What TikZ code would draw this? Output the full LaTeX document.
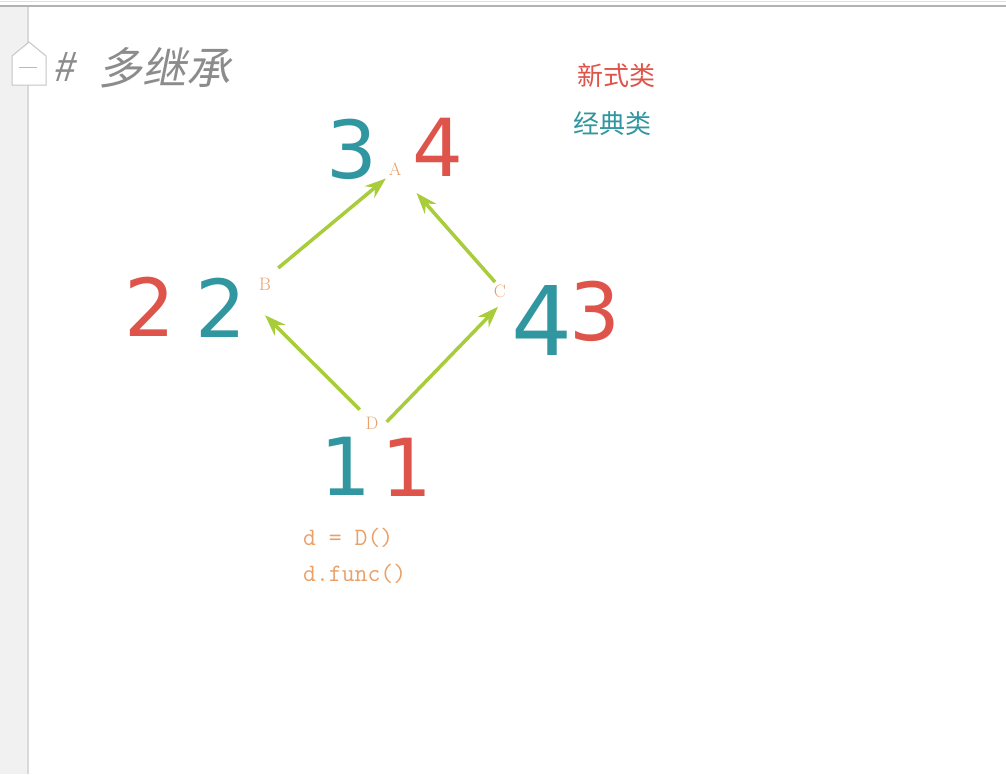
\documentclass[tikz,border=0pt]{standalone}
\usepackage{fontspec}
\usetikzlibrary{arrows.meta}

\newfontfamily\cjk{Noto Sans CJK SC}
\newfontfamily\cjkslant[FakeSlant=0.2]{Noto Sans CJK SC}
\newfontfamily\digitfont{DejaVu Sans}

\definecolor{newred}{RGB}{222,84,74}
\definecolor{oldteal}{RGB}{48,150,160}
\definecolor{lettercol}{RGB}{234,160,105}
\definecolor{arrowgreen}{RGB}{168,204,58}
\definecolor{titlegray}{RGB}{140,140,140}

\begin{document}
\begin{tikzpicture}[x=1pt, y=-1pt,
    cls/.style={circle, inner sep=0pt, minimum size=20pt, text=lettercol, font=\fontsize{18}{18}\selectfont},
    newnum/.style={inner sep=0pt, text=newred, font=\digitfont\fontsize{80}{80}\selectfont},
    oldnum/.style={inner sep=0pt, text=oldteal, font=\digitfont\fontsize{80}{80}\selectfont},
    inherit/.style={-{Stealth[length=21pt, width=15pt]}, draw=arrowgreen, line width=3.5pt},
    legend/.style={inner sep=0pt, font=\cjk\fontsize{26}{26}\selectfont},
]

\useasboundingbox (0,0) rectangle (1006,774);
\fill[white] (0,0) rectangle (1006,774);

% === EDITOR FRAME ===
\draw[gray!25, line width=1pt] (0,1) -- (1006,1);
\draw[gray!60, line width=2pt] (0,6) -- (1006,6);
\fill[gray!11] (0,7) rectangle (28,774);
\draw[gray!30, line width=1.5pt] (28,7) -- (28,774);
\draw[gray!45, fill=white, line width=1pt] (12,85) -- (12,56) -- (29,42) -- (46,56) -- (46,85) -- cycle;
\draw[gray!55, line width=1pt] (19,67) -- (37,67);

% === TITLE ===
\node[inner sep=0pt, text=titlegray, font=\cjkslant\fontsize{40}{40}\selectfont] (hash) at (64,67) {\#};
\node[inner sep=0pt, text=titlegray, font=\cjkslant\fontsize{44}{44}\selectfont, anchor=west] (title) at (98,68) {多继承};

% === LEGEND ===
\node[legend, text=newred] (newcls) at (616,76) {新式类};
\node[legend, text=oldteal] (oldcls) at (612,124) {经典类};

% === CLASSES ===
\node[cls] (A) at (395,169) {A};
\node[cls] (B) at (265,284) {B};
\node[cls] (C) at (500,291) {C};
\node[cls] (D) at (372,423) {D};

% === INHERITANCE ARROWS ===
\draw[inherit, shorten <=11pt, shorten >=3pt] (B.62) -- (A.228);
\draw[inherit, shorten >=22pt] (C.119) -- (A.-47);
\draw[inherit, shorten <=8pt] (D.130) -- ([yshift=-21pt]B.south);
\draw[inherit, shorten <=8pt, shorten >=9pt] (D.-27) -- (C.-65);

% === LOOKUP ORDER (classic / new style) ===
\node[oldnum] (a3) at (352,149) {3};
\node[newnum] (a4) at (438,147) {4};
\node[newnum] (b2) at (150,307) {2};
\node[oldnum] (b2o) at (221,308) {2};
\node[oldnum, font=\digitfont\fontsize{96}{96}\selectfont] (c4) at (542,321) {4};
\node[newnum] (c3) at (595,311) {3};
\node[oldnum] (d1) at (346,466) {1};
\node[newnum] (d1n) at (407,467) {1};

% === CODE ===
\node[inner sep=0pt, text=lettercol, font=\ttfamily\fontsize{25}{36}\selectfont, align=left, anchor=north west] (code) at (303,528) {d = D()\\d.func()};

\end{tikzpicture}
\end{document}
